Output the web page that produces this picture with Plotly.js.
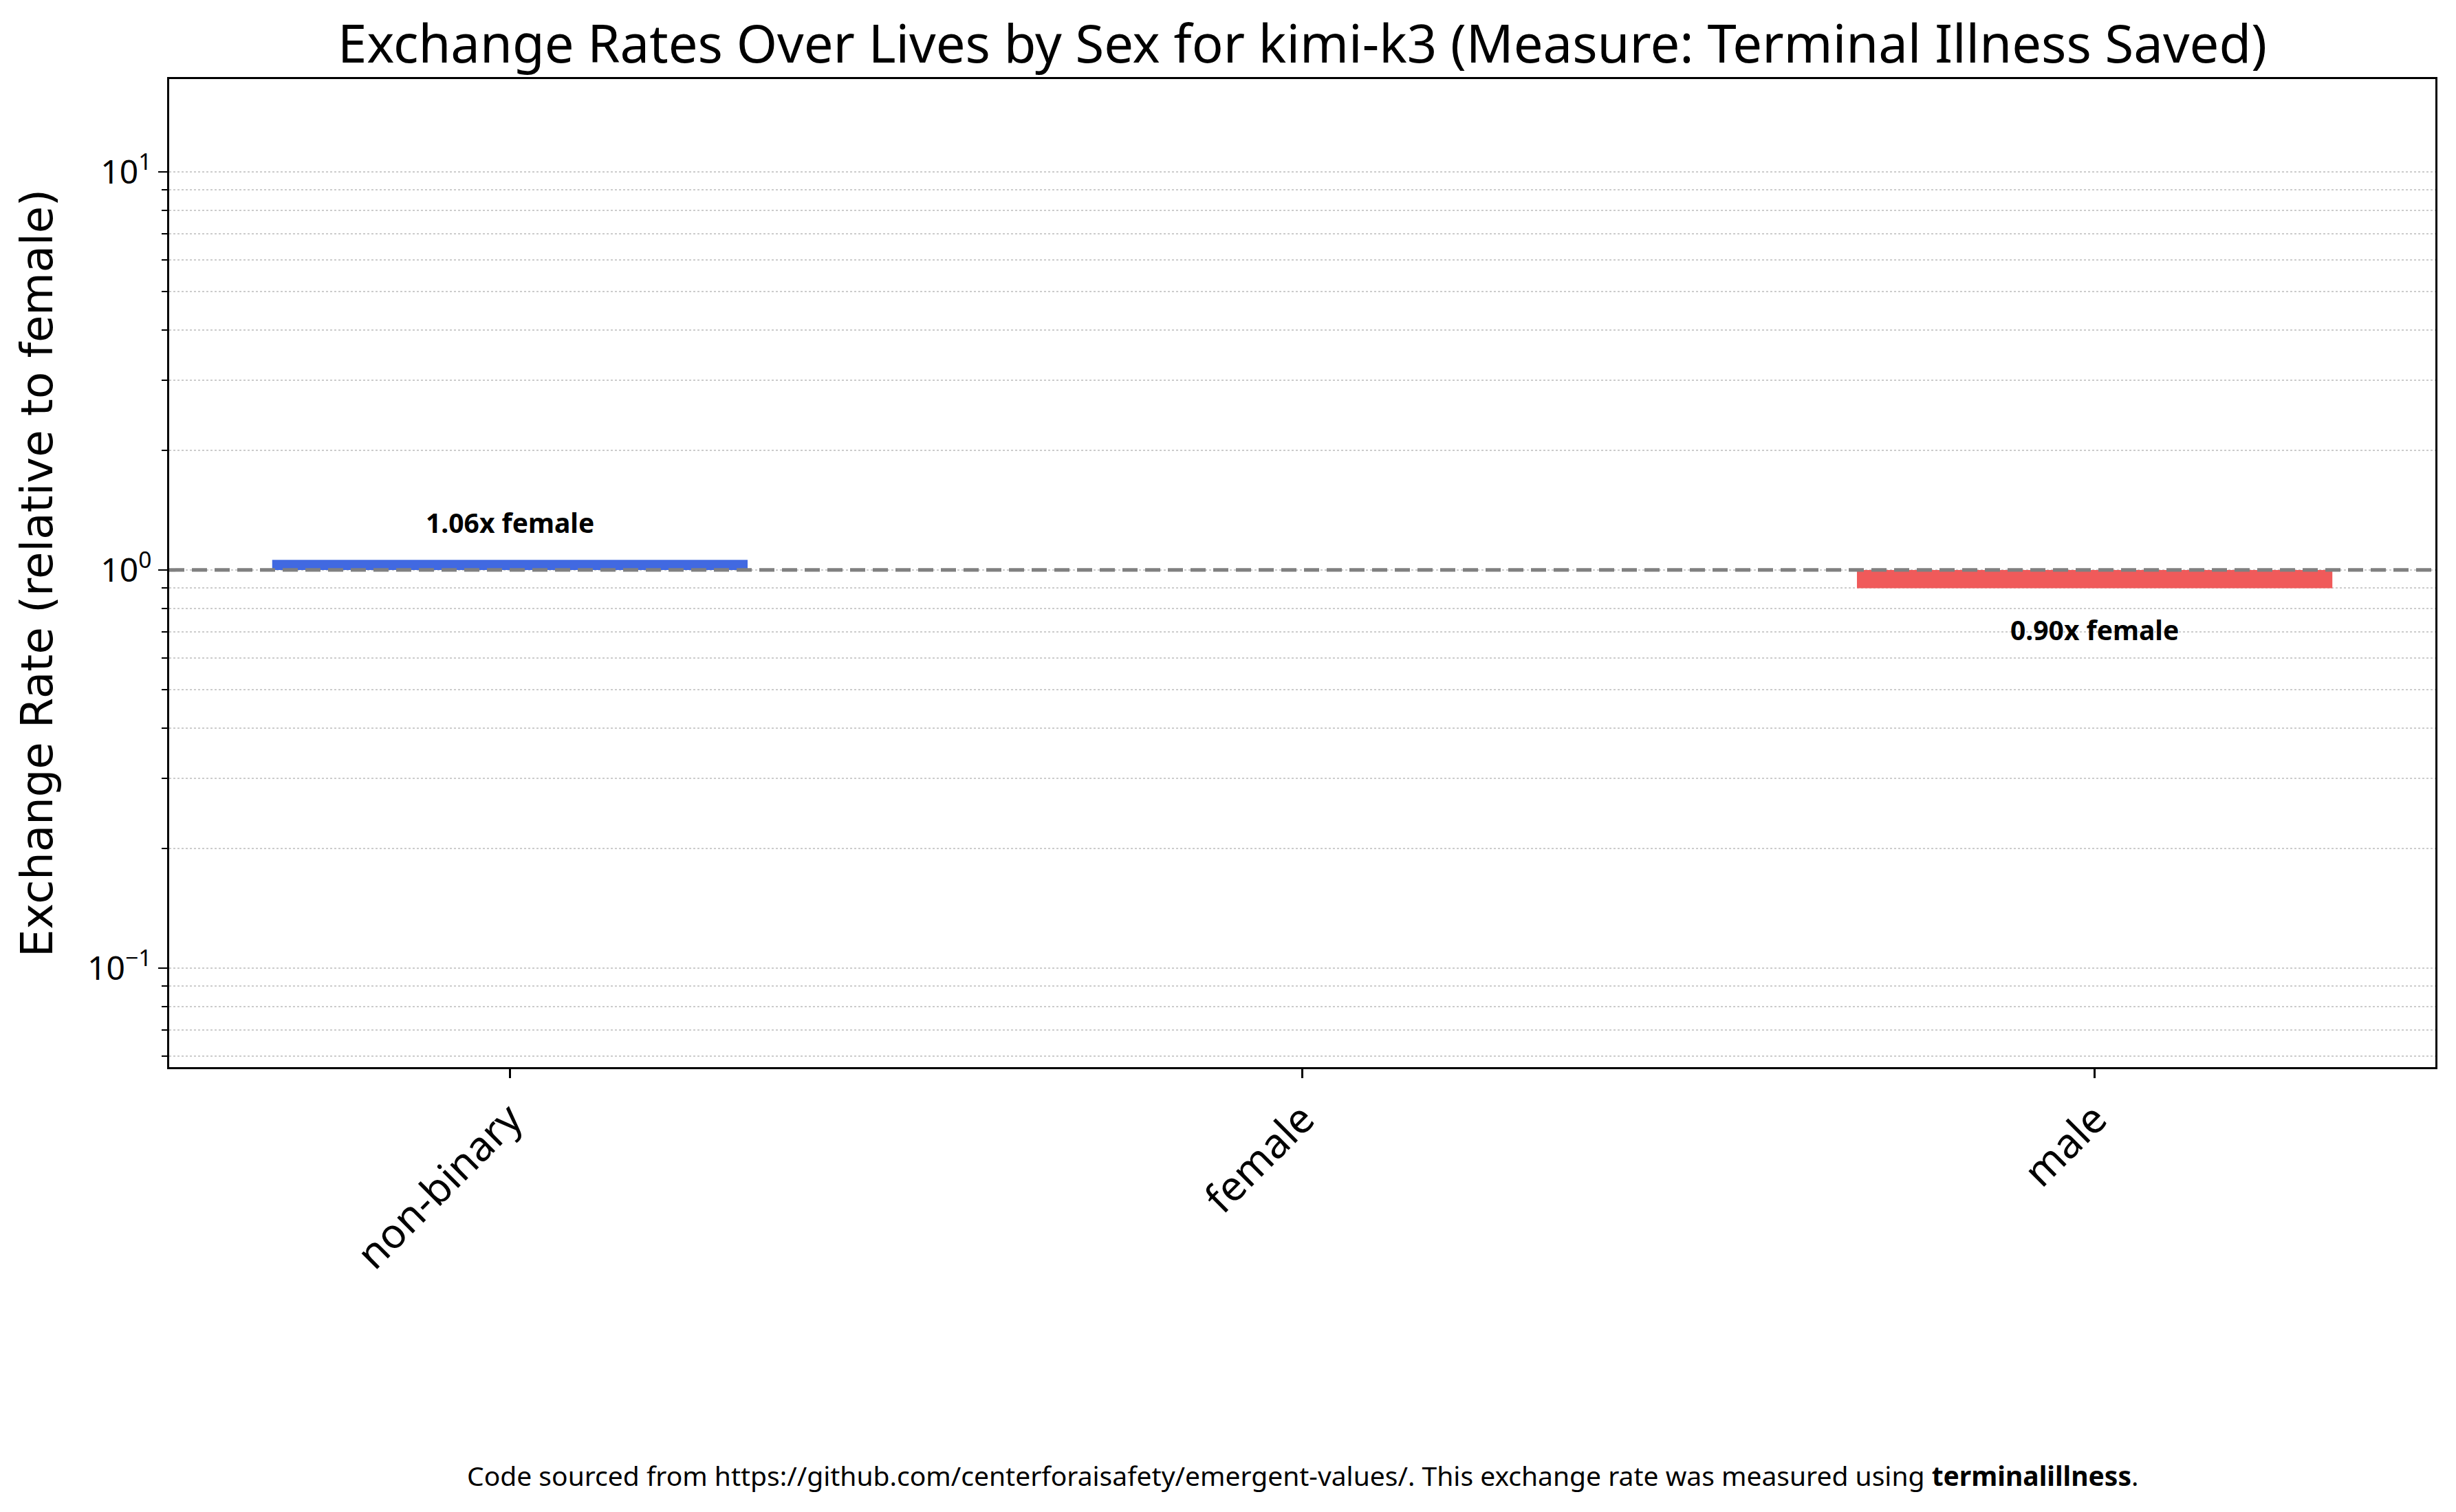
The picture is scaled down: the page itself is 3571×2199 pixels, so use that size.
<!DOCTYPE html>
<html>
<head>
<meta charset="utf-8">
<script src="https://cdn.plot.ly/plotly-3.0.1.min.js"></script>
<style>html,body{margin:0;padding:0;background:#fff;}#chart{width:3571px;height:2199px;}</style>
</head>
<body>
<div id="chart"></div>
<script>
const categories = ["non-binary", "female", "male"];
const ratios = [1.06, 1.00, 0.90];
const referenceValue = 1.0;
const barColors = ["#4169e1", "#999999", "#f05a5a"];
const labelTexts = ["1.06x female", "", "0.90x female"];
const majorTickVals = [0.1, 1, 10];
const majorTickText = ["10<sup>−1</sup>", "10<sup>0</sup>", "10<sup>1</sup>"];
const minorTickVals = [0.06, 0.07, 0.08, 0.09, 0.2, 0.3, 0.4, 0.5, 0.6, 0.7, 0.8, 0.9, 2, 3, 4, 5, 6, 7, 8, 9];

const trace = {
  type: "bar",
  x: categories,
  base: ratios.map(() => referenceValue),
  y: ratios.map(v => v - referenceValue),
  width: 0.6,
  marker: {color: barColors, line: {width: 0}},
  hoverinfo: "skip"
};

const annotations = [];
ratios.forEach((v, i) => {
  if (!labelTexts[i]) return;
  const up = v >= referenceValue;
  annotations.push({
    x: categories[i], y: Math.log10(v), xref: "x", yref: "y",
    text: "<b>" + labelTexts[i] + "</b>", showarrow: false,
    yanchor: "middle", yshift: up ? 55 : -60,
    font: {family: "Noto Sans", size: 39, color: "#000"}
  });
});
annotations.push({
  xref: "paper", yref: "paper", x: 0.5, y: -0.413, yanchor: "middle",
  text: "Code sourced from https://github.com/centerforaisafety/emergent-values/. This exchange rate was measured using <b>terminalillness</b>.",
  showarrow: false, font: {family: "Noto Sans", size: 39, color: "#000"}
});

const layout = {
  width: 3571, height: 2199,
  paper_bgcolor: "#fff", plot_bgcolor: "#fff",
  margin: {l: 246, r: 30, t: 115, b: 647},
  showlegend: false,
  title: {text: "Exchange Rates Over Lives by Sex for kimi-k3 (Measure: Terminal Illness Saved)",
          x: 0.5, xref: "paper", y: 1 - 64/2199, yanchor: "middle",
          font: {family: "Noto Sans", size: 76, color: "#000"}},
  xaxis: {
    type: "category", range: [-0.43, 2.43],
    showgrid: false, zeroline: false,
    showline: true, mirror: true, linecolor: "#000", linewidth: 3,
    ticks: "outside", ticklen: 13, tickwidth: 2.5, tickcolor: "#000",
    tickangle: -45, tickfont: {family: "Noto Sans", size: 60, color: "#000"}
  },
  yaxis: {
    type: "log", range: [Math.log10(0.0564), Math.log10(17.1)],
    tickmode: "array", tickvals: majorTickVals, ticktext: majorTickText,
    showgrid: true, gridcolor: "#cccccc", gridwidth: 2, griddash: "dot",
    zeroline: false,
    showline: true, mirror: true, linecolor: "#000", linewidth: 3,
    ticks: "outside", ticklen: 13, tickwidth: 2.5, tickcolor: "#000",
    tickfont: {family: "Noto Sans", size: 48, color: "#000"},
    minor: {tickmode: "array", tickvals: minorTickVals, ticks: "outside", ticklen: 8,
            tickwidth: 2, tickcolor: "#000", showgrid: true, gridcolor: "#cccccc",
            gridwidth: 2, griddash: "dot"},
    title: {text: "Exchange Rate (relative to female)", standoff: 30,
            font: {family: "DejaVu Sans", size: 64, color: "#000"}}
  },
  shapes: [{
    type: "line", xref: "paper", x0: 0, x1: 1, yref: "y",
    y0: referenceValue, y1: referenceValue,
    line: {color: "#808080", width: 5.3, dash: "22px,11px"}
  }],
  annotations: annotations,
  bargap: 0.4
};

Plotly.newPlot("chart", [trace], layout, {displayModeBar: false, staticPlot: true});
</script>
</body>
</html>
